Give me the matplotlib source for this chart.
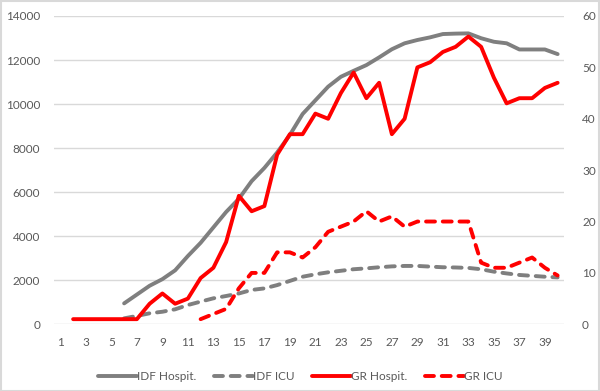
import matplotlib
matplotlib.use("Agg")
import matplotlib.pyplot as plt
from matplotlib.patches import Rectangle
import numpy as np

plt.rcParams['font.family'] = ['Lato', 'DejaVu Sans']

days = list(range(1, 41))

# IDF series (left axis), start at day 6
idf_x = list(range(6, 41))
idf_hosp = [950, 1350, 1750, 2050, 2450, 3100, 3700, 4400, 5100, 5700,
            6500, 7100, 7800, 8600, 9550, 10170, 10790, 11240, 11510, 11770,
            12120, 12490, 12760, 12910, 13030, 13180, 13200, 13210, 12990, 12830,
            12760, 12480, 12480, 12480, 12270]
idf_icu = [270, 380, 500, 570, 680, 875, 1030, 1180, 1285, 1400,
           1560, 1630, 1780, 1970, 2160, 2270, 2360, 2430, 2500, 2540,
           2590, 2630, 2650, 2650, 2620, 2590, 2580, 2560, 2500, 2390,
           2310, 2240, 2200, 2160, 2130]

# GR series (right axis)
gr_hosp_x = list(range(2, 41))
gr_hosp = [1, 1, 1, 1, 1, 1, 4, 6, 4, 5, 9, 11, 16, 25, 22, 23, 33, 37, 37,
           41, 40, 45, 49, 44, 47, 37, 40, 50, 51, 53, 54, 56, 54, 48, 43,
           44, 44, 46, 47]
gr_icu_x = list(range(12, 41))
gr_icu = [1, 2, 3, 7, 10, 10, 14, 14, 13, 15, 18, 19, 20, 22, 20, 21, 19,
          20, 20, 20, 20, 20, 12, 11, 11, 12, 13, 11, 9.5]

x_labels = [str(d) for d in days if d % 2 == 1]
x_ticks = [d for d in days if d % 2 == 1]

gray = '#7F7F7F'
red = '#FF0000'
txt = '#595959'
grid = '#D9D9D9'

fig = plt.figure(figsize=(6, 3.91), dpi=100)
ax = fig.add_axes([0.09, 0.1706, 0.85, 0.7885])
ax2 = ax.twinx()

lw = 2.8
dash = (2.3, 2.0)
l1, = ax.plot(idf_x, idf_hosp, color=gray, lw=lw, solid_capstyle='round', solid_joinstyle='round', label='IDF Hospit.')
l2, = ax.plot(idf_x, idf_icu, color=gray, lw=lw, dashes=dash, dash_capstyle='round', dash_joinstyle='round', label='IDF ICU')
l3, = ax2.plot(gr_hosp_x, gr_hosp, color=red, lw=lw, solid_capstyle='round', solid_joinstyle='round', label='GR Hospit.')
l4, = ax2.plot(gr_icu_x, gr_icu, color=red, lw=lw, dashes=dash, dash_capstyle='round', dash_joinstyle='round', label='GR ICU')

ax.set_xlim(0.5, 40.5)
ax.set_ylim(0, 14000)
ax2.set_ylim(0, 60)
ax.set_yticks(np.arange(0, 14001, 2000))
ax2.set_yticks(np.arange(0, 61, 10))
ax.set_xticks(x_ticks)
ax.set_xticklabels(x_labels)

ax.grid(axis='y', color=grid, lw=1)
ax.set_axisbelow(True)
for a in (ax, ax2):
    for s in a.spines.values():
        s.set_visible(False)
ax.tick_params(axis='both', length=0, labelsize=8.5, colors=txt)
ax.tick_params(axis='y', pad=10)
ax.tick_params(axis='x', pad=9)
ax2.tick_params(axis='y', length=0, labelsize=8.5, colors=txt, pad=13)

leg = fig.legend(handles=[l1, l2, l3, l4], loc='center', bbox_to_anchor=(0.5, 0.038),
                 ncol=4, frameon=False, fontsize=8.5, handlelength=3.3,
                 handletextpad=0.0, columnspacing=1.5, labelcolor=txt)

fig.patches.append(Rectangle((0.001, 0.001), 0.997, 0.997, transform=fig.transFigure,
                             fill=False, edgecolor=grid, lw=1.5))

fig.savefig('out.png', dpi=100)
